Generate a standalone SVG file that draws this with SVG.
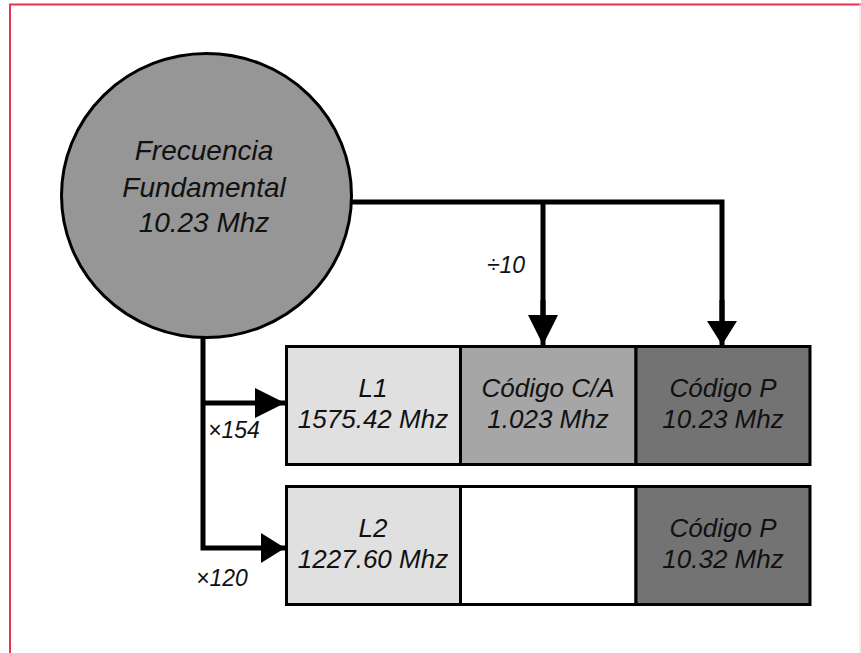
<svg xmlns="http://www.w3.org/2000/svg" width="861" height="653" viewBox="0 0 861 653">
<style>
.t{font-family:"Liberation Sans",Arial,sans-serif;font-style:italic;fill:#111;text-anchor:middle}
.big{font-size:28px}
.mid{font-size:26px}
.lab{font-size:23px}
.ln{fill:none;stroke:#000;stroke-width:5}
.box{stroke:#000;stroke-width:3}
</style>
<defs>
<marker id="ah" markerUnits="userSpaceOnUse" markerWidth="30" markerHeight="30" refX="24" refY="12" orient="auto" viewBox="0 0 24 24">
<path d="M0,0 L24,12 L0,24 Z" fill="#000"/>
</marker>
<marker id="ahb" markerUnits="userSpaceOnUse" markerWidth="30" markerHeight="30" refX="24" refY="15" orient="auto" viewBox="0 0 24 30">
<path d="M0,0 L24,15 L0,30 Z" fill="#000"/>
</marker>
</defs>
<rect width="861" height="653" fill="#fff"/>
<path d="M10,660 V4.5 H861" fill="none" stroke="#e8334f" stroke-width="2"/>
<line x1="860" y1="4" x2="860" y2="653" stroke="#fbd0d8" stroke-width="1"/>
<g id="connectors">
<path class="ln" d="M350,202 H722 V322"/>
<path class="ln" d="M543,202 V322"/>
<path class="ln" d="M722,300 V345" marker-end="url(#ahb)"/>
<path class="ln" d="M543,300 V345" marker-end="url(#ah)"/>
<path class="ln" d="M203,335 V548 H285" marker-end="url(#ahb)"/>
<path class="ln" d="M203,403 H285" marker-end="url(#ah)"/>
<text class="t lab" x="506" y="273">÷10</text>
<text class="t lab" x="234" y="438">×154</text>
<text class="t lab" x="222" y="586">×120</text>
</g>
<g id="fundamental">
<ellipse cx="206.5" cy="195.5" rx="145" ry="142" fill="#969696" stroke="#000" stroke-width="3"/>
<text class="t big" x="204" y="160">Frecuencia</text>
<text class="t big" x="204" y="197">Fundamental</text>
<text class="t big" x="204" y="232">10.23 Mhz</text>
</g>
<g id="l1">
<rect class="box" x="286.5" y="346.5" width="174" height="118" fill="#e0e0e0"/>
<text class="t mid" x="373" y="397">L1</text>
<text class="t mid" x="373" y="428">1575.42 Mhz</text>
</g>
<g id="ca">
<rect class="box" x="460.5" y="346.5" width="175.5" height="118" fill="#a6a6a6"/>
<text class="t mid" x="548" y="397">Código C/A</text>
<text class="t mid" x="548" y="428">1.023 Mhz</text>
</g>
<g id="p1">
<rect class="box" x="636" y="346.5" width="174" height="118" fill="#737373"/>
<text class="t mid" x="723" y="397">Código P</text>
<text class="t mid" x="723" y="428">10.23 Mhz</text>
</g>
<g id="l2">
<rect class="box" x="286.5" y="486.5" width="174" height="118" fill="#e0e0e0"/>
<text class="t mid" x="373" y="537">L2</text>
<text class="t mid" x="373" y="568">1227.60 Mhz</text>
</g>
<g id="empty">
<rect class="box" x="460.5" y="486.5" width="175.5" height="118" fill="#fff"/>
</g>
<g id="p2">
<rect class="box" x="636" y="486.5" width="174" height="118" fill="#737373"/>
<text class="t mid" x="723" y="537">Código P</text>
<text class="t mid" x="723" y="568">10.32 Mhz</text>
</g>
</svg>
